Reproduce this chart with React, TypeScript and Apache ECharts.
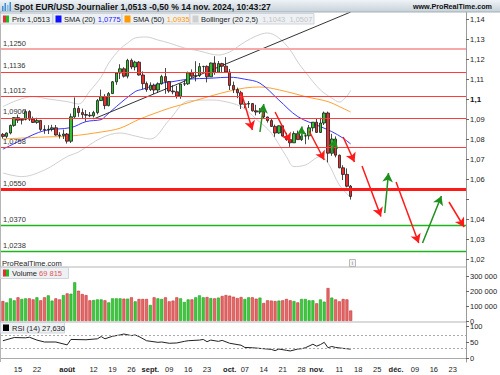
import React, { useEffect, useRef } from "react";
import * as echarts from "echarts";

// ---------- categories (trading days) ----------
const MONTH_DAYS: [string, number[]][] = [
  ["2024-07", [9, 10, 11, 12, 15, 16, 17, 18, 19, 22, 23, 24, 25, 26, 29, 30, 31]],
  ["2024-08", [1, 2, 5, 6, 7, 8, 9, 12, 13, 14, 15, 16, 19, 20, 21, 22, 23, 26, 27, 28, 29, 30]],
  ["2024-09", [2, 3, 4, 5, 6, 9, 10, 11, 12, 13, 16, 17, 18, 19, 20, 23, 24, 25, 26, 27, 30]],
  ["2024-10", [1, 2, 3, 4, 7, 8, 9, 10, 11, 14, 15, 16, 17, 18, 21, 22, 23, 24, 25, 28, 29, 30, 31]],
  ["2024-11", [1, 4, 5, 6, 7, 8, 11, 12, 13, 14, 15, 18, 19, 20, 21, 22, 25, 26, 27, 28, 29]],
  ["2024-12", [2, 3, 4, 5, 6, 9, 10, 11, 12, 13, 16, 17, 18, 19, 20, 23, 24, 25, 26]],
];
const CATEGORIES: string[] = MONTH_DAYS.flatMap(([m, days]) =>
  days.map((d) => `${m}-${String(d).padStart(2, "0")}`)
);

// x tick labels
const X_LABELS: [string, string][] = [
  ["2024-07-15", "15"], ["2024-07-22", "22"], ["2024-08-01", "août"], ["2024-08-12", "12"],
  ["2024-08-19", "19"], ["2024-08-26", "26"], ["2024-09-02", "sept."], ["2024-09-09", "09"],
  ["2024-09-16", "16"], ["2024-09-23", "23"], ["2024-10-01", "oct."], ["2024-10-07", "07"],
  ["2024-10-14", "14"], ["2024-10-21", "21"], ["2024-10-28", "28"], ["2024-11-01", "nov."],
  ["2024-11-11", "11"], ["2024-11-18", "18"], ["2024-11-25", "25"], ["2024-12-02", "déc."],
  ["2024-12-09", "09"], ["2024-12-16", "16"], ["2024-12-23", "23"],
];
const MONTH_LABELS = ["août", "sept.", "oct.", "nov.", "déc."];

// ---------- price OHLC (Jul 9 .. Nov 14) ----------
const OPEN = [
  1.0823, 1.0813, 1.083, 1.0868, 1.0907, 1.0894, 1.0898, 1.0937, 1.0899, 1.0883, 1.0893, 1.0848, 1.0846, 1.0849, 1.0856, 1.082, 1.0817,
  1.0825, 1.0789, 1.0911, 1.0953, 1.0932, 1.0922, 1.0919, 1.0916, 1.0932, 1.0992, 1.1012, 1.0967, 1.1027, 1.1086, 1.113, 1.1151, 1.1114, 1.1193, 1.116, 1.1184, 1.112, 1.1077,
  1.1047, 1.1069, 1.1045, 1.1076, 1.1112, 1.1087, 1.104, 1.1036, 1.1014, 1.1075, 1.1076, 1.1131, 1.1114, 1.1117, 1.1162, 1.1163, 1.1111, 1.118, 1.1134, 1.1177, 1.1164,
  1.1135, 1.1068, 1.1047, 1.1031, 1.0974, 1.0975, 1.0977, 1.0941, 1.0935, 1.0937, 1.091, 1.0892, 1.0863, 1.083, 1.0866, 1.0815, 1.0797, 1.0781, 1.0827, 1.0797, 1.0815, 1.0816, 1.0856,
  1.0884, 1.0833, 1.088, 1.093, 1.0729, 1.08, 1.0719, 1.0656, 1.0623, 1.0564,
];
const CLOSE = [
  1.0813, 1.083, 1.0868, 1.0907, 1.0894, 1.0898, 1.0937, 1.0899, 1.0883, 1.0893, 1.0848, 1.0846, 1.0849, 1.0856, 1.082, 1.0817, 1.0825,
  1.0789, 1.0911, 1.0953, 1.0932, 1.0922, 1.0919, 1.0916, 1.0932, 1.0992, 1.1012, 1.0967, 1.1027, 1.1086, 1.113, 1.1151, 1.1114, 1.1193, 1.116, 1.1184, 1.112, 1.1077, 1.1047,
  1.1069, 1.1045, 1.1076, 1.1112, 1.1087, 1.104, 1.1036, 1.1014, 1.1075, 1.1076, 1.1131, 1.1114, 1.1117, 1.1162, 1.1163, 1.1111, 1.118, 1.1134, 1.1177, 1.1164, 1.1135,
  1.1068, 1.1047, 1.1031, 1.0974, 1.0975, 1.0977, 1.0941, 1.0935, 1.0937, 1.091, 1.0892, 1.0863, 1.083, 1.0866, 1.0815, 1.0797, 1.0781, 1.0827, 1.0797, 1.0815, 1.0816, 1.0856, 1.0884,
  1.0833, 1.088, 1.093, 1.0729, 1.08, 1.0719, 1.0656, 1.0623, 1.0564, 1.0513,
];
const HIGH = [
  1.083, 1.0833, 1.0872, 1.0909, 1.0922, 1.0904, 1.0948, 1.0944, 1.0912, 1.0906, 1.0895, 1.0869, 1.0869, 1.0871, 1.087, 1.0834, 1.0847,
  1.083, 1.0927, 1.1008, 1.0965, 1.0952, 1.0945, 1.0935, 1.0941, 1.1, 1.1047, 1.1024, 1.1035, 1.109, 1.1134, 1.1174, 1.1159, 1.1201, 1.1202, 1.1191, 1.119, 1.1138, 1.1087,
  1.1083, 1.1077, 1.1083, 1.1121, 1.1155, 1.1089, 1.1069, 1.1066, 1.1076, 1.1094, 1.1137, 1.1148, 1.1189, 1.118, 1.1166, 1.1168, 1.1182, 1.1214, 1.119, 1.1181, 1.1209,
  1.115, 1.1087, 1.1057, 1.1041, 1.0985, 1.099, 1.098, 1.0971, 1.0955, 1.0946, 1.0912, 1.0904, 1.0872, 1.0868, 1.0867, 1.0831, 1.0808, 1.0838, 1.0842, 1.0824, 1.0829, 1.087, 1.0885,
  1.0905, 1.0906, 1.0937, 1.0937, 1.0826, 1.0813, 1.0722, 1.0669, 1.0653, 1.057,
];
const LOW = [
  1.0802, 1.0804, 1.0823, 1.0861, 1.088, 1.0873, 1.0893, 1.089, 1.088, 1.0876, 1.084, 1.0826, 1.0825, 1.0838, 1.0817, 1.0802, 1.08,
  1.0777, 1.078, 1.0901, 1.0911, 1.0902, 1.0888, 1.0909, 1.0907, 1.0923, 1.099, 1.0949, 1.0963, 1.1025, 1.1071, 1.11, 1.1107, 1.1103, 1.1149, 1.1143, 1.1117, 1.1048, 1.1036,
  1.104, 1.1025, 1.103, 1.1072, 1.1026, 1.1031, 1.1024, 1.1002, 1.1001, 1.1065, 1.107, 1.1104, 1.1088, 1.111, 1.1135, 1.1083, 1.111, 1.1121, 1.1132, 1.1133, 1.1134,
  1.1045, 1.103, 1.1004, 1.095, 1.0954, 1.0955, 1.0937, 1.0918, 1.0925, 1.0902, 1.0882, 1.086, 1.0811, 1.0826, 1.0812, 1.0791, 1.0761, 1.078, 1.0796, 1.079, 1.0774, 1.0797, 1.0838,
  1.083, 1.083, 1.087, 1.0683, 1.0716, 1.0708, 1.0654, 1.0595, 1.0558, 1.0497,
];

// ---------- volume ----------
const VOLUME = [
  133000, 124000, 151000, 138000, 158000, 147000, 151000, 151000, 144000, 158000, 138000, 158000, 171000, 136000, 151000, 144000, 173000,
  184000, 182000, 258000, 202000, 180000, 173000, 138000, 140000, 144000, 144000, 138000, 124000, 151000, 151000, 151000, 149000, 149000, 158000, 131000, 147000, 147000, 147000,
  107000, 158000, 151000, 147000, 158000, 131000, 136000, 158000, 151000, 127000, 144000, 144000, 158000, 171000, 158000, 160000, 153000, 151000, 156000, 167000, 173000,
  169000, 162000, 153000, 160000, 147000, 158000, 158000, 149000, 156000, 120000, 138000, 136000, 133000, 136000, 138000, 147000, 138000, 133000, 124000, 147000, 147000, 138000, 138000,
  118000, 144000, 129000, 220000, 156000, 144000, 131000, 147000, 144000, 69815,
];

// ---------- indicators ----------
const SMA20: [string, number][] = [
  ["2024-07-09", 1.0749], ["2024-07-16", 1.0795], ["2024-07-24", 1.0842], ["2024-08-02", 1.0857],
  ["2024-08-08", 1.0887], ["2024-08-14", 1.0897], ["2024-08-15", 1.0912], ["2024-08-20", 1.0962],
  ["2024-08-27", 1.1037], ["2024-08-29", 1.1049], ["2024-09-05", 1.1079], ["2024-09-10", 1.1087],
  ["2024-09-16", 1.1099], ["2024-09-24", 1.1104], ["2024-10-01", 1.1109], ["2024-10-07", 1.1099],
  ["2024-10-11", 1.1079], ["2024-10-18", 1.0995], ["2024-10-25", 1.0912], ["2024-11-04", 1.0862],
  ["2024-11-07", 1.0837], ["2024-11-12", 1.0804], ["2024-11-14", 1.0775],
];
const SMA50: [string, number][] = [
  ["2024-07-09", 1.08], ["2024-07-24", 1.081], ["2024-08-02", 1.0815], ["2024-08-14", 1.0835],
  ["2024-08-21", 1.0854], ["2024-08-28", 1.0898], ["2024-09-09", 1.0954], ["2024-09-12", 1.097],
  ["2024-09-24", 1.1015], ["2024-10-01", 1.104], ["2024-10-07", 1.1055], ["2024-10-11", 1.106],
  ["2024-10-22", 1.1037], ["2024-10-29", 1.1012], ["2024-11-06", 1.0987], ["2024-11-11", 1.0962],
  ["2024-11-14", 1.0935],
];
const BB_UPPER: [string, number][] = [
  ["2024-07-09", 1.0962], ["2024-07-15", 1.0995], ["2024-07-19", 1.1012], ["2024-07-25", 1.1],
  ["2024-08-01", 1.0987], ["2024-08-06", 1.0975], ["2024-08-09", 1.104], ["2024-08-14", 1.111],
  ["2024-08-16", 1.118], ["2024-08-21", 1.125], ["2024-08-23", 1.128], ["2024-08-27", 1.1305],
  ["2024-08-30", 1.131], ["2024-09-04", 1.1295], ["2024-09-09", 1.128], ["2024-09-13", 1.1255],
  ["2024-09-19", 1.124], ["2024-09-24", 1.1225], ["2024-09-26", 1.122], ["2024-10-01", 1.1235],
  ["2024-10-03", 1.126], ["2024-10-07", 1.1285], ["2024-10-10", 1.1315], ["2024-10-15", 1.133],
  ["2024-10-18", 1.1305], ["2024-10-23", 1.1245], ["2024-10-25", 1.1185], ["2024-10-29", 1.1135],
  ["2024-11-04", 1.1045], ["2024-11-07", 1.1005], ["2024-11-11", 1.0985], ["2024-11-13", 1.1015],
  ["2024-11-14", 1.1043],
];
const BB_LOWER: [string, number][] = [
  ["2024-07-09", 1.063], ["2024-07-16", 1.0612], ["2024-07-24", 1.0645], ["2024-08-01", 1.0712],
  ["2024-08-06", 1.0735], ["2024-08-14", 1.0805], ["2024-08-21", 1.083], ["2024-08-27", 1.0815],
  ["2024-09-02", 1.08], ["2024-09-09", 1.0895], ["2024-09-16", 1.099], ["2024-09-24", 1.0995],
  ["2024-09-27", 1.099], ["2024-10-04", 1.0962], ["2024-10-10", 1.09], ["2024-10-16", 1.083],
  ["2024-10-22", 1.0712], ["2024-10-24", 1.0662], ["2024-10-29", 1.067], ["2024-11-04", 1.0712],
  ["2024-11-06", 1.068], ["2024-11-11", 1.057], ["2024-11-14", 1.0507],
];
const RSI: [string, number][] = [
  ["2024-07-09", 54], ["2024-07-12", 64], ["2024-07-17", 63], ["2024-07-18", 65], ["2024-07-22", 56],
  ["2024-07-24", 50], ["2024-07-29", 50], ["2024-08-01", 41], ["2024-08-02", 58], ["2024-08-08", 57],
  ["2024-08-13", 60], ["2024-08-14", 67], ["2024-08-15", 60], ["2024-08-19", 68], ["2024-08-21", 72],
  ["2024-08-22", 75], ["2024-08-26", 70], ["2024-08-27", 72], ["2024-08-28", 67], ["2024-08-30", 54],
  ["2024-09-04", 49], ["2024-09-05", 50], ["2024-09-09", 46], ["2024-09-11", 47], ["2024-09-13", 52],
  ["2024-09-16", 54], ["2024-09-19", 56], ["2024-09-20", 58], ["2024-09-23", 51], ["2024-09-24", 56],
  ["2024-09-26", 52], ["2024-09-27", 55], ["2024-10-01", 46], ["2024-10-04", 40], ["2024-10-07", 33],
  ["2024-10-09", 32], ["2024-10-11", 30], ["2024-10-16", 27], ["2024-10-17", 23], ["2024-10-18", 28],
  ["2024-10-22", 24], ["2024-10-23", 22], ["2024-10-25", 28], ["2024-10-28", 29], ["2024-10-29", 32],
  ["2024-10-31", 43], ["2024-11-01", 37], ["2024-11-04", 42], ["2024-11-05", 49], ["2024-11-06", 32],
  ["2024-11-07", 36], ["2024-11-08", 33], ["2024-11-12", 30], ["2024-11-13", 29], ["2024-11-14", 27.63],
];

// trend line
const TREND: [string, number][] = [["2024-08-12", 1.09], ["2024-11-14", 1.1435]];

// horizontal levels
const LEVELS = [1.125, 1.1136, 1.1012, 1.0906, 1.0758, 1.055, 1.037, 1.0238];
const LEVEL_LABELS = ["1,1250", "1,1136", "1,1012", "1,0906", "1,0758", "1,0550", "1,0370", "1,0238"];
const LEVEL_STYLES = [
  { color: "#f7a8a8", width: 2 },
  { color: "#ff3c3c", width: 1.2 },
  { color: "#ff3c3c", width: 1.2 },
  { color: "#ff3c3c", width: 1.2 },
  { color: "#ff3c3c", width: 1.2 },
  { color: "#ff1a1a", width: 3 },
  { color: "#1fb31f", width: 1.4 },
  { color: "#1fb31f", width: 1.4 },
];

// scenario arrows: [from date, from price, to date, to price, "up" | "down"]
const ARROWS: [string, number, string, number, string][] = [
  ["2024-10-04", 1.1035, "2024-10-09", 1.0845, "down"],
  ["2024-10-11", 1.0835, "2024-10-14", 1.0975, "up"],
  ["2024-10-17", 1.0935, "2024-10-23", 1.0785, "down"],
  ["2024-10-28", 1.08, "2024-10-28", 1.0862, "up"],
  ["2024-10-30", 1.084, "2024-11-05", 1.0695, "down"],
  ["2024-11-07", 1.0735, "2024-11-08", 1.08, "up"],
  ["2024-11-12", 1.081, "2024-11-15", 1.0685, "down"],
  ["2024-11-19", 1.0665, "2024-11-26", 1.0412, "down"],
  ["2024-11-27", 1.043, "2024-11-28", 1.063, "up"],
  ["2024-12-02", 1.0585, "2024-12-10", 1.028, "down"],
  ["2024-12-11", 1.028, "2024-12-18", 1.0515, "up"],
  ["2024-12-20", 1.0485, "2024-12-26", 1.036, "down"],
];

// axis ticks
const Y_TICKS = [1.02, 1.03, 1.04, 1.05, 1.06, 1.07, 1.08, 1.09, 1.1, 1.11, 1.12, 1.13, 1.14];
const Y_TICK_LABELS = ["1,02", "1,03", "1,04", "", "1,06", "1,07", "1,08", "1,09", "1,1", "1,11", "1,12", "1,13", "1,14"];
const VOL_TICKS = [0, 100000, 200000, 300000];
const VOL_TICK_LABELS = ["0", "100 000", "200 000", "300 000"];
const RSI_TICKS = [0, 50, 100];
const RSI_TICK_LABELS = ["0", "50", "100"];

const LAST_PRICE = 1.0513;
const LAST_VOLUME = 69815;
const LAST_RSI = 27.63;

const FONT = "Liberation Sans";

function pick(ticks: number[], labels: string[], v: number) {
  const i = ticks.findIndex((t) => Math.abs(t - v) < 1e-7);
  return i >= 0 ? labels[i] : "";
}

function buildOption() {
  const xLabelMap = new Map(X_LABELS);
  const gridBase = { outerBoundsMode: "none", containLabel: false, left: 1, width: 465 };
  const axisFont = { fontFamily: FONT, fontSize: 7.5, color: "#222" };

  const xAxis = [0, 1, 2].map((g) => ({
    type: "category",
    gridIndex: g,
    data: CATEGORIES,
    boundaryGap: true,
    axisLine: { show: g === 2, lineStyle: { color: "#aaa" } },
    axisTick: { show: false },
    splitLine: { show: false },
    axisLabel:
      g === 2
        ? {
            ...axisFont,
            margin: 3,
            interval: (_i: number, v: string) => xLabelMap.has(v),
            formatter: (v: string) => {
              const t = xLabelMap.get(v) || "";
              return MONTH_LABELS.includes(t) ? `{b|${t}}` : t;
            },
            rich: { b: { fontWeight: "bold", fontFamily: FONT, fontSize: 7.5, color: "#222" } },
          }
        : { show: false },
  }));

  const yCommon = {
    position: "right",
    splitLine: { show: false },
    axisLine: { show: true, lineStyle: { color: "#999" } },
  };

  const yAxis = [
    {
      ...yCommon,
      gridIndex: 0,
      min: 1.0155,
      max: 1.1435,
      axisTick: { show: true, length: 3, customValues: Y_TICKS, lineStyle: { color: "#666" } },
      axisLabel: {
        ...axisFont,
        margin: 4,
        customValues: Y_TICKS,
        formatter: (v: number) => {
          const s = pick(Y_TICKS, Y_TICK_LABELS, v);
          return Math.abs(v - 1.1) < 1e-7 ? `{b|${s}}` : s;
        },
        rich: { b: { fontWeight: "bold", fontFamily: FONT, fontSize: 8, color: "#111" } },
      },
    },
    {
      ...yCommon,
      gridIndex: 1,
      min: 0,
      max: 360000,
      axisTick: { show: true, length: 3, customValues: VOL_TICKS, lineStyle: { color: "#666" } },
      axisLabel: { ...axisFont, margin: 4, customValues: VOL_TICKS, formatter: (v: number) => pick(VOL_TICKS, VOL_TICK_LABELS, v) },
    },
    {
      ...yCommon,
      gridIndex: 2,
      min: -12.5,
      max: 112.5,
      axisTick: { show: true, length: 3, customValues: RSI_TICKS, lineStyle: { color: "#666" } },
      axisLabel: { ...axisFont, margin: 4, customValues: RSI_TICKS, formatter: (v: number) => pick(RSI_TICKS, RSI_TICK_LABELS, v) },
    },
  ];

  const candleData = OPEN.map((o, i) => [o, CLOSE[i], LOW[i], HIGH[i]]);

  const volumeData = VOLUME.map((v, i) => {
    const up = CLOSE[i] >= OPEN[i];
    return {
      value: v,
      itemStyle: {
        color: up ? "#3acb3a" : "#e46a6a",
        borderColor: up ? "#22a022" : "#c83030",
        borderWidth: 0.6,
      },
    };
  });

  const levelLines = LEVELS.map((v, i) => ({
    yAxis: v,
    lineStyle: { color: LEVEL_STYLES[i].color, width: LEVEL_STYLES[i].width, type: "solid", opacity: 1 },
    label: {
      show: true,
      position: "insideStartTop",
      formatter: LEVEL_LABELS[i],
      fontFamily: FONT,
      fontSize: 7.5,
      color: "#333",
      distance: 2,
    },
  }));

  const lineSeries = (name: string, data: [string, number][], color: string, z = 2) => ({
    name,
    type: "line",
    xAxisIndex: 0,
    yAxisIndex: 0,
    data,
    showSymbol: false,
    symbol: "none",
    smooth: 0.35,
    lineStyle: { color, width: 1 },
    z,
    silent: true,
  });

  const series: any[] = [
    {
      name: "Levels",
      type: "line",
      xAxisIndex: 0,
      yAxisIndex: 0,
      data: [],
      z: 2,
      markLine: {
        silent: true,
        symbol: ["none", "none"],
        animation: false,
        precision: 4,
        data: levelLines,
      },
    },
    lineSeries("BB up", BB_UPPER, "#d0d0d0", 1),
    lineSeries("BB low", BB_LOWER, "#d0d0d0", 1),
    lineSeries("SMA50", SMA50, "#ffa132", 2),
    lineSeries("SMA20", SMA20, "#3838ff", 2),
    {
      name: "Trend",
      type: "line",
      xAxisIndex: 0,
      yAxisIndex: 0,
      data: TREND,
      showSymbol: false,
      symbol: "none",
      lineStyle: { color: "#333", width: 1 },
      z: 2,
      silent: true,
    },
    {
      name: "Prix",
      type: "candlestick",
      xAxisIndex: 0,
      yAxisIndex: 0,
      data: candleData,
      barWidth: 3,
      z: 3,
      itemStyle: {
        color: "#2fc42f",
        color0: "#e83030",
        borderColor: "#1a1a1a",
        borderColor0: "#1a1a1a",
        borderWidth: 0.8,
      },
    },
    {
      name: "Last",
      type: "line",
      xAxisIndex: 0,
      yAxisIndex: 0,
      data: [],
      z: 6,
      markLine: {
        silent: true,
        symbol: ["none", "none"],
        animation: false,
        precision: 4,
        data: [
          {
            yAxis: LAST_PRICE,
            lineStyle: { opacity: 0 },
            label: {
              show: true,
              position: "end",
              formatter: "1,0513",
              backgroundColor: "#ffd21a",
              color: "#000",
              fontWeight: "bold",
              fontFamily: FONT,
              fontSize: 8.5,
              padding: [1, 2, 0, 2],
              distance: 1,
            },
          },
        ],
      },
    },
    {
      name: "Arrows",
      type: "line",
      xAxisIndex: 0,
      yAxisIndex: 0,
      data: [],
      z: 4,
      markLine: {
        silent: true,
        animation: false,
        precision: 4,
        symbol: ["none", "arrow"],
        symbolSize: [8, 9],
        label: { show: false },
        data: ARROWS.map(([d1, v1, d2, v2, dir]) => {
          const c = dir === "up" ? "#1f8f1f" : "#ff1a1a";
          return [
            { coord: [d1, v1], lineStyle: { color: c, width: 1.5, type: "solid" }, itemStyle: { color: c } },
            { coord: [d2, v2] },
          ];
        }),
      },
    },
    {
      name: "Volume",
      type: "bar",
      xAxisIndex: 1,
      yAxisIndex: 1,
      data: volumeData,
      barWidth: 3,
      silent: true,
      z: 2,
      markLine: {
        silent: true,
        symbol: ["none", "none"],
        animation: false,
        precision: 0,
        z: 20,
        data: [
          {
            yAxis: LAST_VOLUME,
            lineStyle: { opacity: 0 },
            label: {
              show: true,
              position: "end",
              formatter: "69 815",
              color: "#e05555",
              backgroundColor: "#fff",
              borderColor: "#f0b0b0",
              borderWidth: 0.6,
              fontFamily: FONT,
              fontSize: 7.5,
              padding: [0, 2, 0, 2],
              distance: 1,
            },
          },
        ],
      },
    },
    {
      name: "RSI",
      type: "line",
      xAxisIndex: 2,
      yAxisIndex: 2,
      data: RSI,
      showSymbol: false,
      symbol: "none",
      lineStyle: { color: "#222", width: 1 },
      silent: true,
      markLine: {
        silent: true,
        symbol: ["none", "none"],
        animation: false,
        precision: 3,
        data: [
          { yAxis: 70, lineStyle: { color: "#aaa", width: 1, type: [2, 2] }, label: { show: false } },
          { yAxis: 30, lineStyle: { color: "#aaa", width: 1, type: [2, 2] }, label: { show: false } },
          {
            yAxis: LAST_RSI,
            lineStyle: { opacity: 0 },
            label: {
              show: true,
              position: "end",
              formatter: "27,630",
              color: "#222",
              backgroundColor: "#fff",
              borderColor: "#999",
              borderWidth: 0.6,
              fontFamily: FONT,
              fontSize: 7.5,
              padding: [0, 2, 0, 2],
              distance: 1,
            },
          },
        ],
      },
    },
  ];

  const txt = (x: number, y: number, text: string, extra: any = {}) => ({
    type: "text",
    x,
    y,
    z: 100,
    silent: true,
    style: {
      text,
      fill: "#222",
      font: `7.5px "${FONT}"`,
      textVerticalAlign: "middle",
      ...extra,
    },
  });
  const box = (x: number, y: number, w: number, h: number, fill = "#eef1f4", stroke = "#c5ccd3") => ({
    type: "rect",
    z: 99,
    silent: true,
    shape: { x, y, width: w, height: h },
    style: { fill, stroke, lineWidth: 0.8 },
  });
  const sq = (x: number, y: number, w: number, h: number, fill: string) => ({
    type: "rect",
    z: 100,
    silent: true,
    shape: { x, y, width: w, height: h },
    style: { fill },
  });

  const graphic = [
    // header bar
    {
      type: "rect",
      z: 90,
      silent: true,
      shape: { x: 0, y: 0, width: 500, height: 12 },
      style: {
        fill: new echarts.graphic.LinearGradient(0, 0, 0, 1, [
          { offset: 0, color: "#eef3f7" },
          { offset: 1, color: "#c6d1d9" },
        ]),
      },
    },
    { type: "line", z: 91, silent: true, shape: { x1: 0, y1: 12, x2: 500, y2: 12 }, style: { stroke: "#a3afb8", lineWidth: 1 } },
    sq(2, 6, 1.5, 5, "#3f8fd8"),
    sq(4.5, 3, 1.5, 8, "#3f8fd8"),
    sq(7, 5, 1.5, 6, "#7fbfe8"),
    sq(9.5, 2, 1.5, 9, "#3f8fd8"),
    txt(14, 6.5, "Spot EUR/USD Journalier 1,0513 -0,50 % 14 nov. 2024, 10:43:27", { font: `bold 8.6px "${FONT}"`, fill: "#111" }),
    txt(492, 6.5, "www.ProRealTime.com", { font: `bold 7.2px "${FONT}"`, fill: "#111", textAlign: "right" }),

    // legend row
    box(0.5, 13.5, 52, 10.5),
    sq(3, 15.5, 3, 7, "#d33"),
    sq(6, 15.5, 3, 7, "#2b2"),
    txt(12, 19, "Prix 1,0513"),
    box(53, 13.5, 69, 10.5),
    sq(55.5, 15.5, 6, 7, "#1010ff"),
    txt(64, 19, "{a|SMA (20)} {v|1,0775}", {
      rich: { a: { fill: "#222", font: `7.5px "${FONT}"` }, v: { fill: "#2020ff", font: `7.5px "${FONT}"` } },
    }),
    box(122, 13.5, 68, 10.5),
    sq(124.5, 15.5, 6, 7, "#ff9900"),
    txt(133, 19, "{a|SMA (50)} {v|1,0935}", {
      rich: { a: { fill: "#222", font: `7.5px "${FONT}"` }, v: { fill: "#ff9900", font: `7.5px "${FONT}"` } },
    }),
    box(190, 13.5, 124, 10.5),
    sq(192.5, 15.5, 6, 7, "#cfcfcf"),
    txt(201, 19, "{a|Bollinger (20 2,5)}  {v|1,1043  1,0507}", {
      rich: { a: { fill: "#222", font: `7.5px "${FONT}"` }, v: { fill: "#c4c4c4", font: `7.5px "${FONT}"` } },
    }),

    // panel separators and borders
    { type: "line", z: 50, silent: true, shape: { x1: 0, y1: 267, x2: 466, y2: 267 }, style: { stroke: "#b5b5b5", lineWidth: 1 } },
    { type: "line", z: 50, silent: true, shape: { x1: 0, y1: 322, x2: 466, y2: 322 }, style: { stroke: "#b5b5b5", lineWidth: 1 } },
    { type: "line", z: 50, silent: true, shape: { x1: 0.5, y1: 12, x2: 0.5, y2: 362 }, style: { stroke: "#b5b5b5", lineWidth: 1 } },

    // watermark and info icon
    txt(2, 263, "ProRealTime.com", { fill: "#222" }),
    box(349.5, 259.5, 6, 7, "#f4f4f4", "#aaa"),
    txt(352.5, 263, "i", { font: `6px "${FONT}"`, fill: "#777", textAlign: "center" }),

    // volume legend
    box(0.5, 267.5, 68, 11),
    sq(3, 269.5, 3, 7, "#d33"),
    sq(6, 269.5, 3, 7, "#2b2"),
    txt(12, 273.3, "{a|Volume} {v|69 815}", {
      rich: { a: { fill: "#222", font: `7.5px "${FONT}"` }, v: { fill: "#e05555", font: `7.5px "${FONT}"` } },
    }),

    // RSI legend
    box(0.5, 322.5, 64, 10.5),
    sq(3, 324.5, 6, 6.5, "#000"),
    txt(12, 328, "RSI (14) 27,630"),
  ];

  return {
    animation: false,
    backgroundColor: "#fff",
    grid: [
      { ...gridBase, top: 12, height: 256 },
      { ...gridBase, top: 267, height: 54 },
      { ...gridBase, top: 322, height: 40 },
    ],
    xAxis,
    yAxis,
    series,
    graphic: { elements: graphic },
  };
}

export default function App() {
  const ref = useRef<HTMLDivElement>(null);
  useEffect(() => {
    if (!ref.current) return;
    const chart = echarts.init(ref.current, null, { renderer: "svg" });
    chart.setOption(buildOption() as any);
    return () => chart.dispose();
  }, []);
  return (
    <div
      ref={ref}
      style={{ position: "absolute", left: 0, top: 0, width: 500, height: 375, background: "#fff" }}
    />
  );
}
